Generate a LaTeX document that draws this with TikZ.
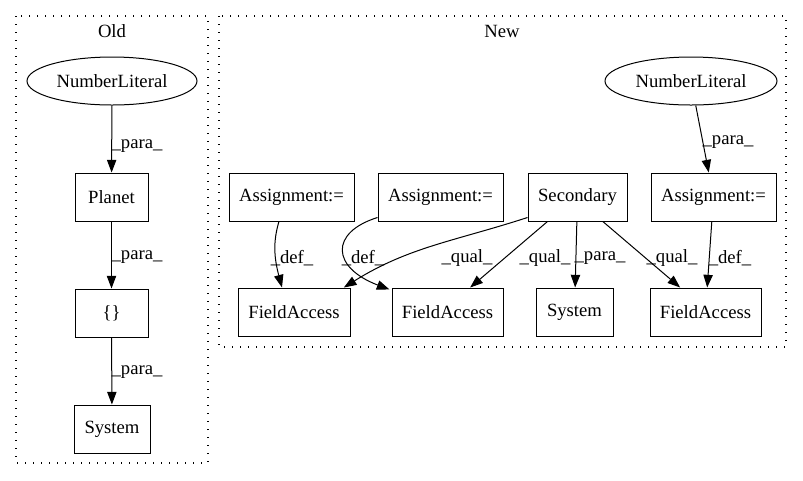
\documentclass[tikz,border=0pt]{standalone}
\usepackage{fontspec}
\setmainfont{Liberation Serif}
\usetikzlibrary{arrows.meta,shapes.geometric}
\begin{document}
\begin{tikzpicture}[x=0.75pt,y=-0.75pt,
  box/.style={draw,line width=0.75pt,rectangle,minimum height=36pt,inner sep=0pt,font=\fontsize{14}{16}\selectfont},
  ell/.style={draw,line width=0.75pt,ellipse,minimum height=36pt,inner sep=0pt,font=\fontsize{14}{16}\selectfont},
  lbl/.style={inner sep=0pt,font=\fontsize{14}{16}\selectfont},
  clus/.style={line width=0.9pt,dash pattern=on 1pt off 5pt},
  edge/.style={line width=0.75pt,-{Triangle[length=9.5pt,width=7pt]}}]
\useasboundingbox (0,0) rectangle (803,480);
% clusters
\draw[clus] (16,16) rectangle (208,463);
\draw[clus] (219,16) rectangle (786,347);
\node[lbl] (told) at (112,31) {Old};
\node[lbl] (tnew) at (502,31) {New};
% Old nodes
\node[ell,minimum width=127.5pt] (nlO) at (112,81) {NumberLiteral};
\node[box,minimum width=54.75pt] (planet) at (111.5,197) {Planet};
\node[box,minimum width=54.75pt] (brace) at (111.5,313) {\{\}};
\node[box,minimum width=57pt] (sysO) at (112,429) {System};
% New nodes
\node[ell,minimum width=129pt] (nlN) at (691,81) {NumberLiteral};
\node[box,minimum width=93.75pt] (aL) at (291.5,197) {Assignment:=};
\node[box,minimum width=93.75pt] (aM) at (440.5,197) {Assignment:=};
\node[box,minimum width=93.75pt] (aR) at (713.5,197) {Assignment:=};
\node[box,minimum width=74.25pt] (sec) at (577.5,197) {Secondary};
\node[box,minimum width=84pt] (faL) at (294,312) {FieldAccess};
\node[box,minimum width=83.25pt] (faM) at (447.5,312) {FieldAccess};
\node[box,minimum width=57.75pt] (sysN) at (574.5,312) {System};
\node[box,minimum width=83.25pt] (faR) at (705.5,312) {FieldAccess};
% Old edges
\draw[edge] (nlO) -- (planet);
\draw[edge] (planet) -- (brace);
\draw[edge] (brace) -- (sysO);
\node[lbl] (l1) at (137,146) {\_para\_};
\node[lbl] (l2) at (137,257) {\_para\_};
\node[lbl] (l3) at (137,372) {\_para\_};
% New edges
\draw[edge] (nlN) -- (aR);
\node[lbl] (l4) at (728,142) {\_para\_};
\draw[edge] ([xshift=-9.4pt]aL.south) .. controls +(-6,20) and +(-8,-30) .. ([xshift=-9pt]faL.north);
\node[lbl] (l5) at (292,258) {\_def\_};
\draw[edge] ([yshift=3pt]aM.south west) .. controls +(-48,15) and +(-58,-22) .. ([xshift=-1.5pt,yshift=-1.5pt]faM.north west);
\node[lbl] (l6) at (363,258) {\_def\_};
\draw[edge] ([yshift=3pt]sec.south west) to[out=198,in=32] ([xshift=-5pt]faL.north east);
\node[lbl] (l7) at (467,258) {\_qual\_};
\draw[edge] ([xshift=-22.5pt]sec.south) -- ([xshift=17pt]faM.north);
\node[lbl] (l8) at (545,258) {\_qual\_};
\draw[edge] (sec) -- (sysN);
\node[lbl] (l9) at (600,258) {\_para\_};
\draw[edge] ([xshift=19pt]sec.south) -- ([xshift=-19pt]faR.north);
\node[lbl] (l10) at (672,258) {\_qual\_};
\draw[edge] (aR) -- (faR);
\node[lbl] (l11) at (730,258) {\_def\_};
\end{tikzpicture}
\end{document}
